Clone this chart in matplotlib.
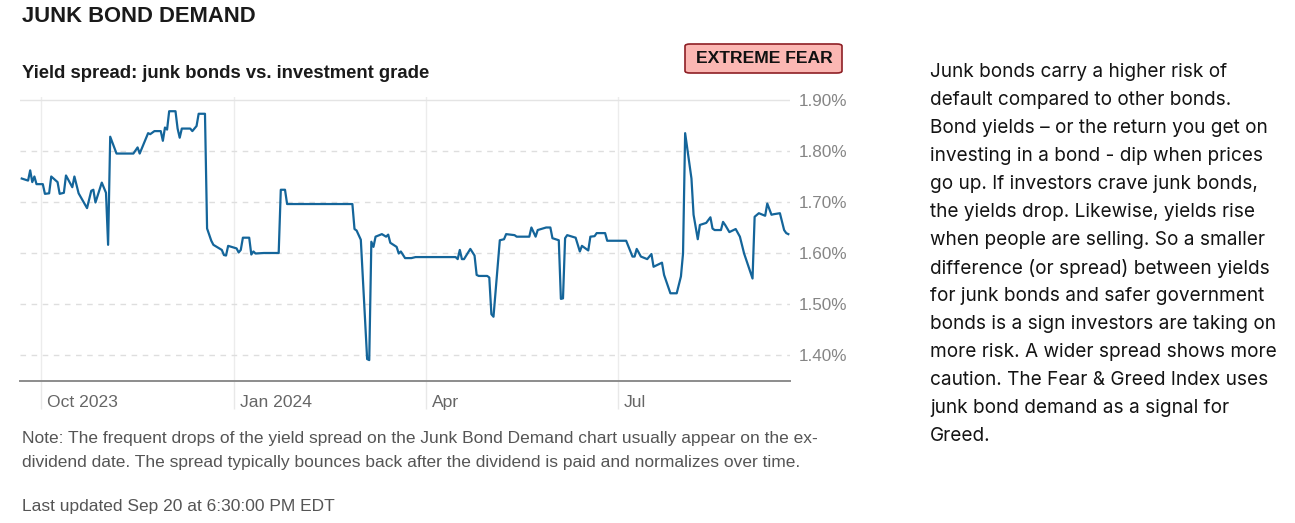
import matplotlib
matplotlib.use("Agg")
import matplotlib.pyplot as plt
import matplotlib.transforms as mtransforms
from matplotlib.patches import FancyBboxPatch
import pandas as pd

# yield spread, junk vs investment grade (%)
dates = [
    "2023-09-22", "2023-09-25", "2023-09-26", "2023-09-27", "2023-09-28", "2023-09-29",
    "2023-10-02", "2023-10-03", "2023-10-05", "2023-10-06", "2023-10-09", "2023-10-10",
    "2023-10-12", "2023-10-13", "2023-10-16", "2023-10-17", "2023-10-19", "2023-10-23",
    "2023-10-25", "2023-10-26", "2023-10-27", "2023-10-30", "2023-11-01", "2023-11-02",
    "2023-11-03", "2023-11-06", "2023-11-14", "2023-11-16", "2023-11-17", "2023-11-21",
    "2023-11-22", "2023-11-24", "2023-11-27", "2023-11-28", "2023-11-29", "2023-11-30",
    "2023-12-01", "2023-12-04", "2023-12-05", "2023-12-06", "2023-12-07", "2023-12-11",
    "2023-12-12", "2023-12-14", "2023-12-15", "2023-12-18", "2023-12-19", "2023-12-21",
    "2023-12-22", "2023-12-26", "2023-12-27", "2023-12-28", "2023-12-29", "2024-01-02",
    "2024-01-03", "2024-01-04", "2024-01-05", "2024-01-08", "2024-01-09", "2024-01-10",
    "2024-01-11", "2024-01-15", "2024-01-22", "2024-01-23", "2024-01-25", "2024-01-26",
    "2024-02-26", "2024-02-27", "2024-02-28", "2024-03-01", "2024-03-04", "2024-03-05",
    "2024-03-06", "2024-03-07", "2024-03-08", "2024-03-11", "2024-03-13", "2024-03-14",
    "2024-03-15", "2024-03-18", "2024-03-19", "2024-03-20", "2024-03-22", "2024-03-25",
    "2024-03-27", "2024-04-15", "2024-04-16", "2024-04-17", "2024-04-18", "2024-04-19",
    "2024-04-22", "2024-04-24", "2024-04-25", "2024-04-26", "2024-04-30", "2024-05-01",
    "2024-05-02", "2024-05-03", "2024-05-06", "2024-05-08", "2024-05-09", "2024-05-13",
    "2024-05-14", "2024-05-20", "2024-05-21", "2024-05-23", "2024-05-24", "2024-05-28",
    "2024-05-30", "2024-05-31", "2024-06-03", "2024-06-04", "2024-06-05", "2024-06-06",
    "2024-06-07", "2024-06-11", "2024-06-13", "2024-06-14", "2024-06-17", "2024-06-18",
    "2024-06-20", "2024-06-21", "2024-06-25", "2024-06-26", "2024-07-05", "2024-07-08",
    "2024-07-09", "2024-07-10", "2024-07-12", "2024-07-15", "2024-07-17", "2024-07-18",
    "2024-07-19", "2024-07-22", "2024-07-23", "2024-07-26", "2024-07-29", "2024-07-31",
    "2024-08-01", "2024-08-02", "2024-08-05", "2024-08-06", "2024-08-08", "2024-08-09",
    "2024-08-12", "2024-08-14", "2024-08-15", "2024-08-16", "2024-08-19", "2024-08-20",
    "2024-08-21", "2024-08-23", "2024-08-26", "2024-08-28", "2024-08-30", "2024-09-03",
    "2024-09-04", "2024-09-06", "2024-09-09", "2024-09-10", "2024-09-12", "2024-09-13",
    "2024-09-16", "2024-09-18", "2024-09-19", "2024-09-20",
]
spread = [
    1.746, 1.742, 1.762, 1.739, 1.750, 1.735,
    1.735, 1.716, 1.717, 1.750, 1.739, 1.716,
    1.718, 1.752, 1.729, 1.750, 1.717, 1.688,
    1.722, 1.724, 1.699, 1.738, 1.718, 1.616,
    1.828, 1.795, 1.795, 1.807, 1.795, 1.835,
    1.833, 1.839, 1.839, 1.820, 1.846, 1.842,
    1.878, 1.878, 1.844, 1.826, 1.844, 1.844,
    1.839, 1.849, 1.873, 1.873, 1.648, 1.624,
    1.616, 1.606, 1.596, 1.595, 1.614, 1.609,
    1.601, 1.606, 1.630, 1.630, 1.597, 1.603,
    1.599, 1.600, 1.600, 1.724, 1.724, 1.696,
    1.696, 1.647, 1.644, 1.626, 1.392, 1.390,
    1.622, 1.612, 1.632, 1.637, 1.632, 1.636,
    1.620, 1.612, 1.599, 1.603, 1.590, 1.590,
    1.592, 1.592, 1.588, 1.606, 1.588, 1.588,
    1.608, 1.595, 1.557, 1.555, 1.555, 1.552,
    1.480, 1.475, 1.625, 1.627, 1.637, 1.635,
    1.632, 1.632, 1.650, 1.632, 1.645, 1.650,
    1.650, 1.629, 1.625, 1.510, 1.511, 1.629,
    1.635, 1.630, 1.603, 1.614, 1.605, 1.632,
    1.633, 1.639, 1.639, 1.624, 1.624, 1.593,
    1.593, 1.608, 1.593, 1.588, 1.598, 1.573,
    1.575, 1.581, 1.557, 1.521, 1.521, 1.554,
    1.599, 1.835, 1.746, 1.675, 1.627, 1.655,
    1.659, 1.670, 1.648, 1.645, 1.645, 1.661,
    1.655, 1.641, 1.647, 1.632, 1.599, 1.550,
    1.671, 1.678, 1.673, 1.697, 1.675, 1.676,
    1.678, 1.645, 1.639, 1.637,
]

y_ticks = [1.40, 1.50, 1.60, 1.70, 1.80, 1.90]
x_ticks = ["2023-10-01", "2024-01-01", "2024-04-01", "2024-07-01"]
x_tick_labels = ["Oct 2023", "Jan 2024", "Apr", "Jul"]

title = "JUNK BOND DEMAND"
subtitle = "Yield spread: junk bonds vs. investment grade"
badge = "EXTREME FEAR"
note_lines = [
    "Note: The frequent drops of the yield spread on the Junk Bond Demand chart usually appear on the ex-",
    "dividend date. The spread typically bounces back after the dividend is paid and normalizes over time.",
]
updated = "Last updated Sep 20 at 6:30:00 PM EDT"
side_lines = [
    "Junk bonds carry a higher risk of",
    "default compared to other bonds.",
    "Bond yields \u2013 or the return you get on",
    "investing in a bond - dip when prices",
    "go up. If investors crave junk bonds,",
    "the yields drop. Likewise, yields rise",
    "when people are selling. So a smaller",
    "difference (or spread) between yields",
    "for junk bonds and safer government",
    "bonds is a sign investors are taking on",
    "more risk. A wider spread shows more",
    "caution. The Fear & Greed Index uses",
    "junk bond demand as a signal for",
    "Greed.",
]

W, H = 1295, 523
sans = ["Liberation Sans", "DejaVu Sans"]

fig = plt.figure(figsize=(W / 100, H / 100), dpi=100)
fig.patch.set_facecolor("white")

ax = fig.add_axes([20 / W, 1 - 381 / H, 770 / W, (381 - 97.45) / H])
x = pd.to_datetime(dates)
ax.plot(x, spread, color="#14659a", lw=1.6, solid_joinstyle="round", zorder=3)

ax.set_ylim(1.349, 1.905)
ax.set_xlim(pd.Timestamp("2023-09-21 04:00"), pd.Timestamp("2024-09-20 19:00"))

for s in ["top", "left", "right"]:
    ax.spines[s].set_visible(False)
ax.spines["bottom"].set_color("#8c8c8c")
ax.spines["bottom"].set_linewidth(1.4)

ax.yaxis.tick_right()
ax.set_yticks(y_ticks)
ax.set_yticklabels([f"{v:.2f}%" for v in y_ticks], family=sans, fontsize=12.3, color="#858585")
ax.tick_params(axis="y", length=0, pad=6)
ax.grid(axis="y", color="#dedede", lw=1, linestyle=(0, (4, 4)))
ax.yaxis.get_gridlines()[-1].set_linestyle("-")
ax.yaxis.get_gridlines()[-1].set_color("#e4e4e4")

ax.set_xticks(pd.to_datetime(x_ticks))
ax.set_xticklabels(x_tick_labels, family=sans, fontsize=12.6, color="#666666", ha="left")
ax.tick_params(axis="x", length=20, width=1, color="#e8e8e8", pad=-10)
ax.grid(axis="x", color="#ececec", lw=1)
offset = mtransforms.ScaledTranslation(0.06, 0, fig.dpi_scale_trans)
for lab in ax.get_xticklabels():
    lab.set_transform(lab.get_transform() + offset)

fig.text(22 / W, 1 - 17 / H, title, family=sans, fontweight="bold",
         fontsize=15.8, color="#1a1a1a", va="center", ha="left")
fig.text(22 / W, 1 - 74 / H, subtitle, family=sans, fontweight="bold",
         fontsize=13.3, color="#1a1a1a", va="center", ha="left")

box = FancyBboxPatch((685 / W, 1 - 73 / H), 157 / W, 29 / H,
                     boxstyle="round,pad=0,rounding_size=0.004",
                     transform=fig.transFigure, facecolor="#fbb7b3",
                     edgecolor="#8e1f25", lw=1.2)
fig.patches.append(box)
fig.text(764 / W, 1 - 58.5 / H, badge, family=sans, fontweight="bold",
         fontsize=12.6, color="#111111", va="center", ha="center")

for i, line in enumerate(note_lines):
    fig.text(22 / W, 1 - (438 + 24 * i) / H, line, family=sans,
             fontsize=12.5, color="#555555", va="center", ha="left")
fig.text(22 / W, 1 - 507 / H, updated, family=sans,
         fontsize=12.5, color="#555555", va="center", ha="left")

for i, line in enumerate(side_lines):
    fig.text(930 / W, 1 - (72 + 28 * i) / H, line, family=["Inter", "DejaVu Sans"],
             fontsize=13.7, color="#141414", va="center", ha="left")

fig.savefig("out.png", dpi=100, facecolor="white")
